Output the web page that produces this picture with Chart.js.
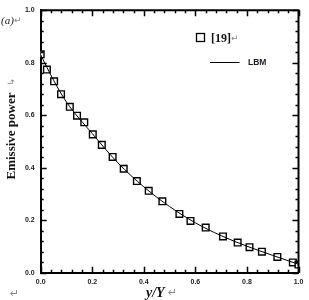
<!DOCTYPE html>
<html>
<head>
<meta charset="utf-8">
<script src="https://cdn.jsdelivr.net/npm/chart.js@4.4.1/dist/chart.umd.min.js"></script>
<style>
  body { margin: 0; background: #fff; }
  canvas { display: block; }
</style>
</head>
<body>
<canvas id="myChart" width="309" height="300"></canvas>
<script>
// reference [19] markers
const refX = [0, 0.024, 0.052, 0.079, 0.113, 0.141, 0.169, 0.202, 0.237, 0.279, 0.322, 0.373,
  0.419, 0.472, 0.538, 0.581, 0.640, 0.707, 0.764, 0.810, 0.858, 0.918, 0.978, 1.0];
const refY = [0.832, 0.774, 0.729, 0.680, 0.632, 0.598, 0.573, 0.527, 0.487, 0.441, 0.396, 0.349,
  0.312, 0.272, 0.224, 0.197, 0.172, 0.138, 0.115, 0.097, 0.080, 0.060, 0.039, 0.031];

// LBM curve
const lbmX = [0, 0.05, 0.1, 0.2, 0.3, 0.4, 0.5, 0.6, 0.7, 0.8, 0.9, 1.0];
const lbmY = [0.83, 0.733, 0.65, 0.53, 0.418, 0.327, 0.252, 0.19, 0.141, 0.101, 0.066, 0.032];

const tickValues = [0, 0.2, 0.4, 0.6, 0.8, 1.0];

function toPoints(xs, ys) {
  return xs.map((x, i) => ({ x: x, y: ys[i] }));
}

// inward ticks, top/right frame, titles and legend
const framePlugin = {
  id: "frame",
  afterDraw(chart) {
    const ctx = chart.ctx;
    const a = chart.chartArea;
    const xs = chart.scales.x;
    const ys = chart.scales.y;
    ctx.save();
    ctx.strokeStyle = "#000";
    ctx.lineWidth = 2;
    ctx.beginPath();
    ctx.moveTo(a.left, a.top);
    ctx.lineTo(a.right, a.top);
    ctx.lineTo(a.right, a.bottom);
    ctx.stroke();

    ctx.lineWidth = 1.5;
    ctx.beginPath();
    for (let i = 0; i <= 25; i++) {
      const v = i * 0.04;
      const len = i % 5 === 0 ? 6 : 3;
      const px = Math.round(xs.getPixelForValue(v)) + 0.5;
      const py = Math.round(ys.getPixelForValue(v)) + 0.5;
      ctx.moveTo(px, a.bottom); ctx.lineTo(px, a.bottom - len);
      ctx.moveTo(px, a.top); ctx.lineTo(px, a.top + len);
      ctx.moveTo(a.left, py); ctx.lineTo(a.left + len, py);
      ctx.moveTo(a.right, py); ctx.lineTo(a.right - len, py);
    }
    ctx.stroke();

    // axis titles
    ctx.fillStyle = "#111";
    ctx.textBaseline = "middle";
    ctx.textAlign = "left";
    ctx.font = "italic bold 14px 'Liberation Serif'";
    ctx.fillText("y/Y", 146, 293);
    ctx.fillStyle = "#888";
    ctx.font = "11px 'DejaVu Sans'";
    ctx.fillText("\u21b5", 168, 293);
    ctx.fillText("\u21b5", 10, 294);

    ctx.fillStyle = "#222";
    ctx.font = "italic 11px 'Liberation Serif'";
    ctx.fillText("(a)", 1, 21);
    ctx.fillStyle = "#888";
    ctx.font = "9px 'DejaVu Sans'";
    ctx.fillText("\u21b5", 14, 21);

    ctx.save();
    ctx.translate(12, 132);
    ctx.rotate(-Math.PI / 2);
    ctx.textAlign = "center";
    ctx.fillStyle = "#111";
    ctx.font = "bold 13px 'Liberation Serif'";
    ctx.fillText("Emissive power", -4, 0);
    ctx.fillStyle = "#888";
    ctx.font = "9px 'DejaVu Sans'";
    ctx.fillText("\u21b3", 50, 0);
    ctx.restore();

    // legend
    ctx.strokeStyle = "#000";
    ctx.lineWidth = 1.3;
    ctx.strokeRect(196.5, 33.5, 8, 8);
    ctx.fillStyle = "#111";
    ctx.font = "bold 12px 'Liberation Serif'";
    ctx.fillText("[19]", 211, 38.5);
    ctx.fillStyle = "#888";
    ctx.font = "9px 'DejaVu Sans'";
    ctx.fillText("\u21b5", 231, 38.5);

    ctx.lineWidth = 1;
    ctx.beginPath();
    ctx.moveTo(210, 62.5);
    ctx.lineTo(239.5, 62.5);
    ctx.stroke();
    ctx.fillStyle = "#1a1a2a";
    ctx.font = "bold 8.5px 'Liberation Sans'";
    ctx.fillText("LBM", 248, 62.5);
    ctx.restore();
  }
};

const tickFont = { family: "'Liberation Sans'", size: 7, weight: "bold" };

new Chart(document.getElementById("myChart"), {
  type: "scatter",
  data: {
    datasets: [
      {
        type: "line",
        label: "LBM",
        data: toPoints(lbmX, lbmY),
        borderColor: "#000",
        borderWidth: 1,
        pointRadius: 0,
        cubicInterpolationMode: "monotone",
        fill: false,
        order: 0,
      },
      {
        label: "[19]",
        data: toPoints(refX, refY),
        pointStyle: "rect",
        pointRadius: 4.7,
        pointBackgroundColor: "#fff",
        pointBorderColor: "#000",
        pointBorderWidth: 1.4,
        order: 1,
      },
    ],
  },
  options: {
    responsive: false,
    animation: false,
    devicePixelRatio: 1,
    layout: { padding: { top: 4.5, right: 10.5, left: 0, bottom: 0 } },
    plugins: { legend: { display: false }, tooltip: { enabled: false } },
    scales: {
      x: {
        type: "linear",
        min: 0,
        max: 1,
        afterFit: (s) => { s.height = 27.3; },
        afterBuildTicks: (s) => { s.ticks = tickValues.map((v) => ({ value: v })); },
        ticks: {
          font: tickFont,
          color: "#222",
          padding: 5,
          maxRotation: 0,
          callback: (v) => v.toFixed(1),
        },
        grid: { display: false, drawTicks: false },
        border: { display: true, color: "#000", width: 2 },
      },
      y: {
        type: "linear",
        min: 0,
        max: 1,
        afterFit: (s) => { s.width = 40.7; },
        afterBuildTicks: (s) => { s.ticks = tickValues.map((v) => ({ value: v })); },
        ticks: {
          font: tickFont,
          color: "#222",
          padding: 6,
          callback: (v) => v.toFixed(1),
        },
        grid: { display: false, drawTicks: false },
        border: { display: true, color: "#000", width: 2 },
      },
    },
  },
  plugins: [framePlugin],
});
</script>
</body>
</html>
